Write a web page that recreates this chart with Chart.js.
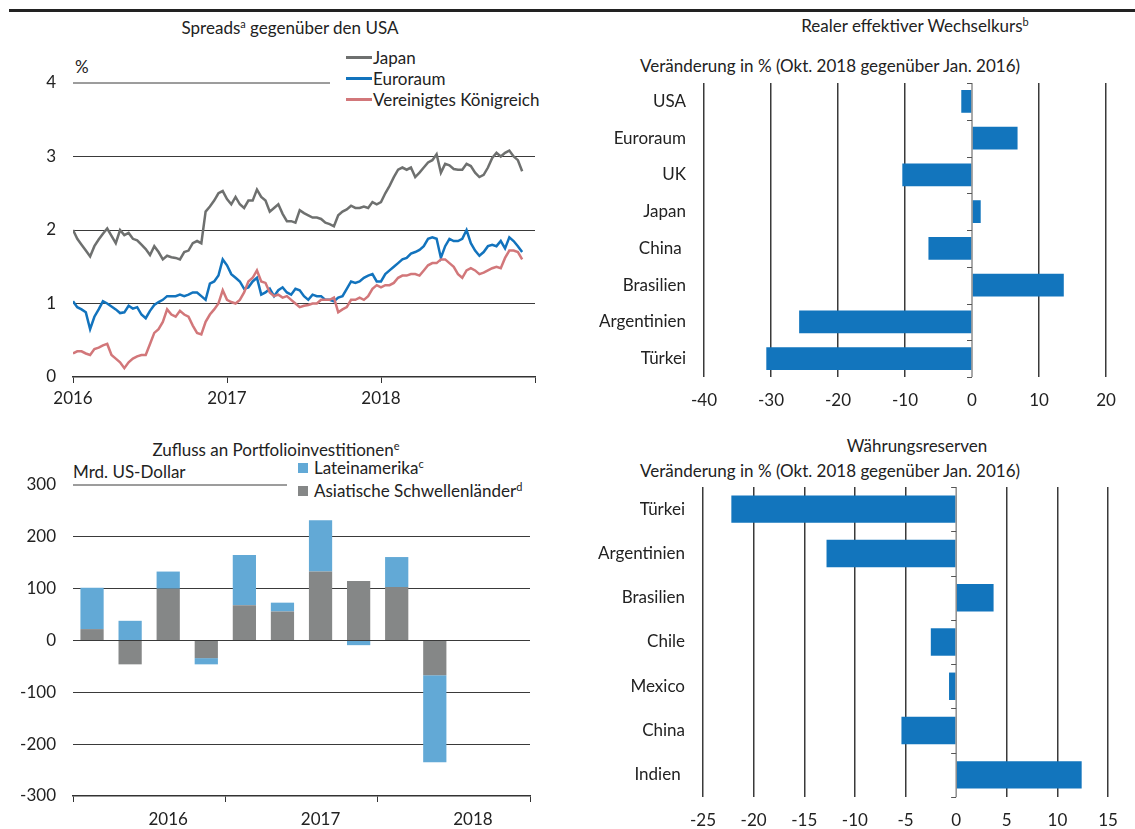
<!DOCTYPE html>
<html>
<head>
<meta charset="utf-8">
<script src="https://cdn.jsdelivr.net/npm/chart.js@4.4.0/dist/chart.umd.min.js"></script>
<style>
  body { margin: 0; background: #fff; }
  #page { position: relative; width: 1135px; height: 829px; overflow: hidden;
          font-family: Lato, "Noto Sans", sans-serif; color: #222; }
  canvas { position: absolute; }
  .t { position: absolute; font-size: 17px; white-space: nowrap; transform: translate(-50%, -50%); }
  .l { position: absolute; font-size: 17px; white-space: nowrap; transform: translateY(-50%); }
  sup { font-size: 11px; vertical-align: 6px; line-height: 0; }
  .rule { position: absolute; left: 9px; top: 9px; width: 1126px; height: 3px; background: #222; }
  .ln { position: absolute; width: 26px; height: 3px; }
  .sq { position: absolute; width: 10px; height: 10px; }
</style>
</head>
<body>
<div id="page">
  <div class="rule"></div>

  <!-- top left -->
  <div class="t" style="left:290px;top:27px">Spreads<sup>a</sup> gegenüber den USA</div>
  <div class="l" style="left:75px;top:66px">%</div>
  <div class="ln" style="left:346px;top:56px;background:#6e706f"></div>
  <div class="l" style="left:373px;top:57px">Japan</div>
  <div class="ln" style="left:346px;top:77px;background:#1273bd"></div>
  <div class="l" style="left:373px;top:78px">Euroraum</div>
  <div class="ln" style="left:346px;top:98px;background:#d2777a"></div>
  <div class="l" style="left:373px;top:99px">Vereinigtes Königreich</div>
  <canvas id="spreads" width="560" height="370" style="left:0;top:40px"></canvas>

  <!-- top right -->
  <div class="t" style="left:915px;top:25px">Realer effektiver Wechselkurs<sup>b</sup></div>
  <div class="t" style="left:830px;top:65px">Veränderung in % (Okt. 2018 gegenüber Jan. 2016)</div>
  <canvas id="wechselkurs" width="555" height="370" style="left:580px;top:40px"></canvas>

  <!-- bottom left -->
  <div class="t" style="left:276px;top:449px">Zufluss an Portfolioinvestitionen<sup>e</sup></div>
  <div class="l" style="left:73px;top:471px">Mrd. US-Dollar</div>
  <div class="sq" style="left:298px;top:463px;background:#62a9d6"></div>
  <div class="l" style="left:314px;top:467px">Lateinamerika<sup>c</sup></div>
  <div class="sq" style="left:298px;top:486px;background:#858787"></div>
  <div class="l" style="left:314px;top:490px">Asiatische Schwellenländer<sup>d</sup></div>
  <canvas id="zufluss" width="560" height="389" style="left:0;top:440px"></canvas>

  <!-- bottom right -->
  <div class="t" style="left:917px;top:445px">Währungsreserven</div>
  <div class="t" style="left:830px;top:470px">Veränderung in % (Okt. 2018 gegenüber Jan. 2016)</div>
  <canvas id="reserven" width="555" height="389" style="left:580px;top:440px"></canvas>
</div>

<script>
// Spreads gegenüber den USA, ca. 3 Werte pro Monat ab Jan. 2016
const spreadJapan = [
  2.0, 1.88, 1.8,   1.72, 1.64, 1.78,   1.87, 1.95, 2.02,   1.92, 1.82, 2.0,
  1.93, 1.96, 1.88, 1.86, 1.8, 1.74,    1.66, 1.78, 1.7,    1.6, 1.65, 1.63,
  1.62, 1.6, 1.7,   1.72, 1.82, 1.85,   1.82, 2.25, 2.32,   2.4, 2.5, 2.53,
  2.42, 2.35, 2.45, 2.35, 2.3, 2.4,     2.4, 2.55, 2.45,    2.4, 2.25, 2.3,
  2.35, 2.22, 2.12, 2.12, 2.1, 2.27,    2.23, 2.2, 2.17,    2.17, 2.15, 2.1,
  2.08, 2.05, 2.2,  2.25, 2.28, 2.33,   2.3, 2.3, 2.32,     2.3, 2.38, 2.35,
  2.38, 2.5, 2.6,   2.72, 2.82, 2.85,   2.82, 2.85, 2.72,   2.78, 2.85, 2.92,
  2.95, 3.03, 2.78, 2.9, 2.88, 2.83,    2.82, 2.82, 2.9,    2.87, 2.78, 2.72,
  2.75, 2.85, 2.98, 3.05, 3.0, 3.05,    3.08, 3.0, 2.95,    2.8
];
const spreadEuro = [
  1.03, 0.95, 0.92, 0.88, 0.65, 0.82,   0.92, 1.03, 1.0,    0.96, 0.92, 0.87,
  0.88, 0.97, 0.93, 0.95, 0.85, 0.8,    0.9, 0.98, 1.02,    1.05, 1.1, 1.1,
  1.1, 1.12, 1.1,   1.12, 1.15, 1.15,   1.1, 1.05, 1.27,    1.3, 1.38, 1.6,
  1.52, 1.4, 1.35,  1.3, 1.2, 1.22,     1.3, 1.35, 1.12,    1.15, 1.2, 1.1,
  1.18, 1.22, 1.15, 1.12, 1.2, 1.18,    1.1, 1.05, 1.12,    1.1, 1.1, 1.05,
  1.05, 1.03, 1.08, 1.1, 1.2, 1.3,      1.28, 1.3, 1.35,    1.38, 1.4, 1.3,
  1.3, 1.4, 1.45,   1.5, 1.55, 1.6,     1.62, 1.68, 1.7,    1.73, 1.78, 1.88,
  1.9, 1.88, 1.62,  1.78, 1.88, 1.85,   1.85, 1.88, 2.0,    1.82, 1.72, 1.65,
  1.7, 1.78, 1.8,   1.78, 1.85, 1.75,   1.9, 1.85, 1.78,    1.7
];
const spreadUK = [
  0.32, 0.35, 0.35, 0.32, 0.3, 0.38,    0.4, 0.43, 0.45,    0.3, 0.25, 0.2,
  0.12, 0.2, 0.25,  0.28, 0.3, 0.3,     0.45, 0.6, 0.65,    0.75, 0.92, 0.85,
  0.82, 0.9, 0.85,  0.82, 0.7, 0.6,     0.58, 0.75, 0.85,   0.92, 1.0, 1.18,
  1.05, 1.02, 1.0,  1.05, 1.15, 1.3,    1.35, 1.45, 1.3,    1.28, 1.15, 1.1,
  1.12, 1.08, 1.1,  1.05, 1.0, 0.95,    0.97, 0.98, 1.0,    1.0, 1.05, 1.05,
  1.05, 1.08, 0.88, 0.92, 0.95, 1.05,   1.05, 1.08, 1.05,   1.1, 1.2, 1.25,
  1.22, 1.25, 1.25, 1.28, 1.35, 1.38,   1.38, 1.4, 1.4,     1.38, 1.45, 1.52,
  1.55, 1.55, 1.6,  1.6, 1.55, 1.5,     1.4, 1.35, 1.45,    1.48, 1.45, 1.4,
  1.42, 1.45, 1.48, 1.5, 1.48, 1.62,    1.72, 1.72, 1.7,    1.6
];
const spreadYearTicks = ['2016', '2017', '2018', ''];

// Realer effektiver Wechselkurs
const wkLabels = ['USA', 'Euroraum', 'UK', 'Japan', 'China ', 'Brasilien', 'Argentinien', 'Türkei'];
const wkValues = [-1.6, 6.8, -10.4, 1.3, -6.5, 13.7, -25.8, -30.7];

// Zufluss an Portfolioinvestitionen, Quartale 2016-2018
const flowQuarters = ['Q1 2016', 'Q2 2016', 'Q3 2016', 'Q4 2016', 'Q1 2017', 'Q2 2017',
                      'Q3 2017', 'Q4 2017', 'Q1 2018', 'Q2 2018', 'Q3 2018', 'Q4 2018'];
const flowAsia = [22, -46, 100, -34, 68, 56, 133, 115, 103, -67, null, null];
const flowLatam = [80, 38, 33, -12, 97, 17, 99, -9, 58, -168, null, null];
const flowYearLabels = ['2016', '2017', '2018'];

// Währungsreserven
const resLabels = ['Türkei', 'Argentinien', 'Brasilien', 'Chile', 'Mexico', 'China', 'Indien '];
const resValues = [-22.2, -12.8, 3.7, -2.5, -0.7, -5.4, 12.4];

Chart.defaults.font.family = "Lato, 'Noto Sans', sans-serif";
Chart.defaults.font.size = 17;
Chart.defaults.color = '#222';
Chart.defaults.animation = false;

const GRID = '#3a3a3a';

// gridline that stops short of the legend
const partialGrid = {
  id: 'partialGrid',
  beforeDatasetsDraw(chart, args, opts) {
    const y = chart.scales.y.getPixelForValue(opts.value);
    const ctx = chart.ctx;
    ctx.save();
    ctx.strokeStyle = GRID;
    ctx.lineWidth = 1;
    ctx.beginPath();
    ctx.moveTo(chart.chartArea.left, y);
    ctx.lineTo(opts.right, y);
    ctx.stroke();
    ctx.restore();
  }
};

// little ticks on the zero line between categories
const zeroTicks = {
  id: 'zeroTicks',
  afterDatasetsDraw(chart) {
    const x0 = chart.scales.x.getPixelForValue(0);
    const {top, bottom} = chart.chartArea;
    const n = chart.data.labels.length;
    const ctx = chart.ctx;
    ctx.save();
    ctx.strokeStyle = '#555';
    ctx.lineWidth = 1;
    ctx.beginPath();
    ctx.moveTo(x0, top);
    ctx.lineTo(x0, bottom);
    for (let i = 0; i <= n; i++) {
      const y = Math.round(top + i * (bottom - top) / n) + 0.5;
      ctx.moveTo(x0 - 5, y);
      ctx.lineTo(x0, y);
    }
    ctx.stroke();
    ctx.restore();
  }
};

// Spreads line chart
const toPoints = arr => arr.map((v, i) => ({x: i / 3, y: v}));
new Chart(document.getElementById('spreads'), {
  type: 'line',
  data: {
    datasets: [
      {label: 'Vereinigtes Königreich', data: toPoints(spreadUK), borderColor: '#d2777a'},
      {label: 'Euroraum', data: toPoints(spreadEuro), borderColor: '#1273bd'},
      {label: 'Japan', data: toPoints(spreadJapan), borderColor: '#6e706f'}
    ].map(d => Object.assign(d, {borderWidth: 2.5, pointRadius: 0, tension: 0}))
  },
  options: {
    responsive: false,
    layout: {padding: {top: 43, right: 25}},
    plugins: {legend: {display: false}, tooltip: {enabled: false},
              partialGrid: {value: 4, right: 330}},
    scales: {
      x: {
        type: 'linear', min: 0, max: 36,
        afterBuildTicks: s => { s.ticks = [0, 12, 24, 36].map(v => ({value: v})); },
        ticks: {callback: (v, i) => spreadYearTicks[i], padding: 5, maxRotation: 0, autoSkip: false},
        grid: {drawOnChartArea: false, tickLength: 6, color: '#333'},
        border: {color: '#333', width: 1.5},
        afterFit: s => { s.height = 33; }
      },
      y: {
        min: 0, max: 4,
        ticks: {stepSize: 1, padding: 17},
        grid: {drawTicks: false, color: c => (c.tick.value === 4 || c.tick.value === 0) ? 'transparent' : GRID},
        border: {display: false},
        afterFit: s => { s.width = 73; }
      }
    }
  },
  plugins: [partialGrid]
});

// horizontal bar charts
function hbar(id, labels, values, min, max, step, area) {
  return new Chart(document.getElementById(id), {
    type: 'bar',
    data: {labels: labels, datasets: [{data: values, backgroundColor: '#1275bd',
           barPercentage: 0.62, categoryPercentage: 1}]},
    options: {
      indexAxis: 'y',
      responsive: false,
      layout: {padding: {top: area.top, right: area.right}},
      plugins: {legend: {display: false}, tooltip: {enabled: false}},
      scales: {
        x: {
          min: min, max: max,
          ticks: {stepSize: step, padding: 13},
          grid: {drawTicks: false, color: c => c.tick.value === 0 ? 'transparent' : GRID, lineWidth: 1.5},
          border: {display: false},
          afterFit: s => { s.height = area.axis; }
        },
        y: {
          grid: {display: false},
          ticks: {padding: 10},
          border: {display: false},
          afterFit: s => { s.width = area.left; }
        }
      }
    },
    plugins: [zeroTicks]
  });
}

hbar('wechselkurs', wkLabels, wkValues, -40, 20, 10, {top: 43, right: 29, left: 124, axis: 33});
hbar('reserven', resLabels, resValues, -25, 15, 5, {top: 47, right: 27, left: 123, axis: 32});

// Portfolio flows stacked bars
const yearLabelAt = {2.5: flowYearLabels[0], 6.5: flowYearLabels[1], 10.5: flowYearLabels[2]};
new Chart(document.getElementById('zufluss'), {
  type: 'bar',
  data: {
    labels: flowQuarters,
    datasets: [
      {label: 'Asiatische Schwellenländer', data: flowAsia, backgroundColor: '#858787'},
      {label: 'Lateinamerika', data: flowLatam, backgroundColor: '#62a9d6'}
    ].map(d => Object.assign(d, {barPercentage: 0.61, categoryPercentage: 1}))
  },
  options: {
    responsive: false,
    layout: {padding: {top: 45, right: 30}},
    plugins: {legend: {display: false}, tooltip: {enabled: false},
              partialGrid: {value: 300, right: 287}},
    scales: {
      x: {stacked: true, display: false},
      xYear: {
        type: 'linear', position: 'bottom', min: 0, max: 12, offset: false,
        afterBuildTicks: s => { s.ticks = [0, 2.5, 4, 6.5, 8, 10.5, 12].map(v => ({value: v})); },
        ticks: {callback: v => yearLabelAt[v] || '', padding: 7, maxRotation: 0, autoSkip: false},
        grid: {drawOnChartArea: false, offset: false, tickLength: 6,
               tickColor: c => (c.tick && c.tick.value % 4 === 0) ? '#333' : 'transparent'},
        border: {color: '#333', width: 1.5},
        afterFit: s => { s.height = 33; }
      },
      y: {
        stacked: true, min: -300, max: 300,
        ticks: {stepSize: 100, padding: 17},
        grid: {drawTicks: false,
               color: c => (c.tick.value === 300 || c.tick.value === -300) ? 'transparent' : GRID},
        border: {display: false},
        afterFit: s => { s.width = 73; }
      }
    }
  },
  plugins: [partialGrid]
});
</script>
</body>
</html>
